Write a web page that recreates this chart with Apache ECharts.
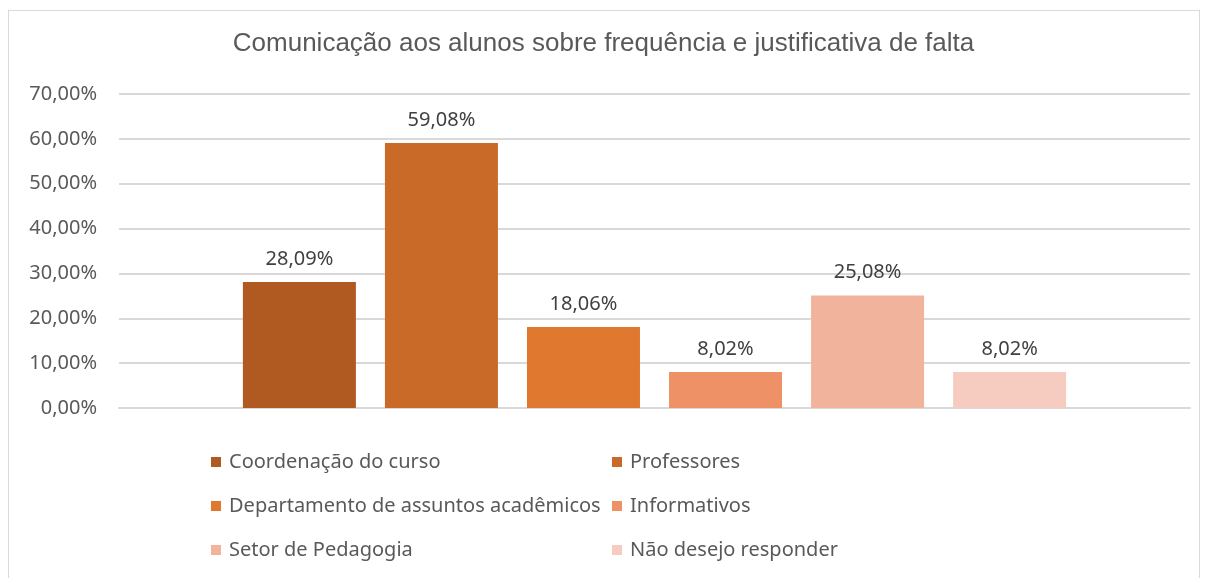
<!DOCTYPE html>
<html>
<head>
<meta charset="utf-8">
<script src="https://cdn.jsdelivr.net/npm/echarts@6/dist/echarts.min.js"></script>
<style>
  html, body { margin: 0; padding: 0; background: #fff; }
  #frame { position: absolute; left: 8px; top: 10px; width: 1192px; height: 600px; border: 1px solid #d9d9d9; box-sizing: border-box; }
  #chart { position: absolute; left: 0; top: 0; width: 1207px; height: 578px; }
</style>
</head>
<body>
<div id="frame"></div>
<div id="chart"></div>
<script>
// categories / series
const seriesNames = [
  'Coordenação do curso',
  'Professores',
  'Departamento de assuntos acadêmicos',
  'Informativos',
  'Setor de Pedagogia',
  'Não desejo responder'
]
const seriesValues = [28.09, 59.08, 18.06, 8.02, 25.08, 8.02]
const seriesColors = ['#b05a21', '#c96a28', '#e07830', '#ef9166', '#f2b39c', '#f5ccbf']
const yTicks = [0, 10, 20, 30, 40, 50, 60, 70]

const fmt = v => v.toFixed(2).replace('.', ',') + '%'
const font = 'Noto Sans'

const chart = echarts.init(document.getElementById('chart'))

// legend: 2 colunas x 3 linhas
const legendCols = [211, 612]
const legendRows = [452, 496, 540]
const legends = seriesNames.map((name, i) => ({
  data: [name],
  left: legendCols[i % 2],
  top: legendRows[Math.floor(i / 2)],
  padding: 0,
  itemWidth: 10,
  itemHeight: 10,
  itemGap: 0,
  icon: 'rect',
  selectedMode: false,
  textStyle: { color: '#595959', fontSize: 20, fontFamily: font, padding: [0, 0, 0, 3] }
}))

const option = {
  animation: false,
  title: {
    text: 'Comunicação aos alunos sobre frequência e justificativa de falta',
    left: 'center',
    top: 26,
    textStyle: { color: '#595959', fontSize: 26, fontWeight: 'normal', fontFamily: 'Liberation Sans' }
  },
  legend: legends,
  grid: { left: 119, right: 17, top: 94, bottom: 170 },
  xAxis: {
    type: 'category',
    data: [''],
    axisLine: { lineStyle: { color: '#d9d9d9', width: 2 } },
    axisTick: { show: false },
    axisLabel: { show: false }
  },
  yAxis: {
    type: 'value',
    min: yTicks[0],
    max: yTicks[yTicks.length - 1],
    interval: 10,
    axisLine: { show: false },
    axisTick: { show: false },
    axisLabel: {
      color: '#595959',
      fontSize: 20,
      fontFamily: font,
      margin: 22,
      formatter: v => fmt(v)
    },
    splitLine: { lineStyle: { color: '#d9d9d9', width: 2 } }
  },
  series: seriesNames.map((name, i) => ({
    name: name,
    type: 'bar',
    data: [seriesValues[i]],
    barWidth: 113,
    barGap: '25.7%',
    itemStyle: { color: seriesColors[i] },
    label: {
      show: true,
      position: 'top',
      distance: 13,
      color: '#404040',
      fontSize: 20,
      fontFamily: font,
      formatter: p => fmt(p.value)
    }
  }))
}

chart.setOption(option)
window.addEventListener('resize', () => chart.resize())
</script>
</body>
</html>
